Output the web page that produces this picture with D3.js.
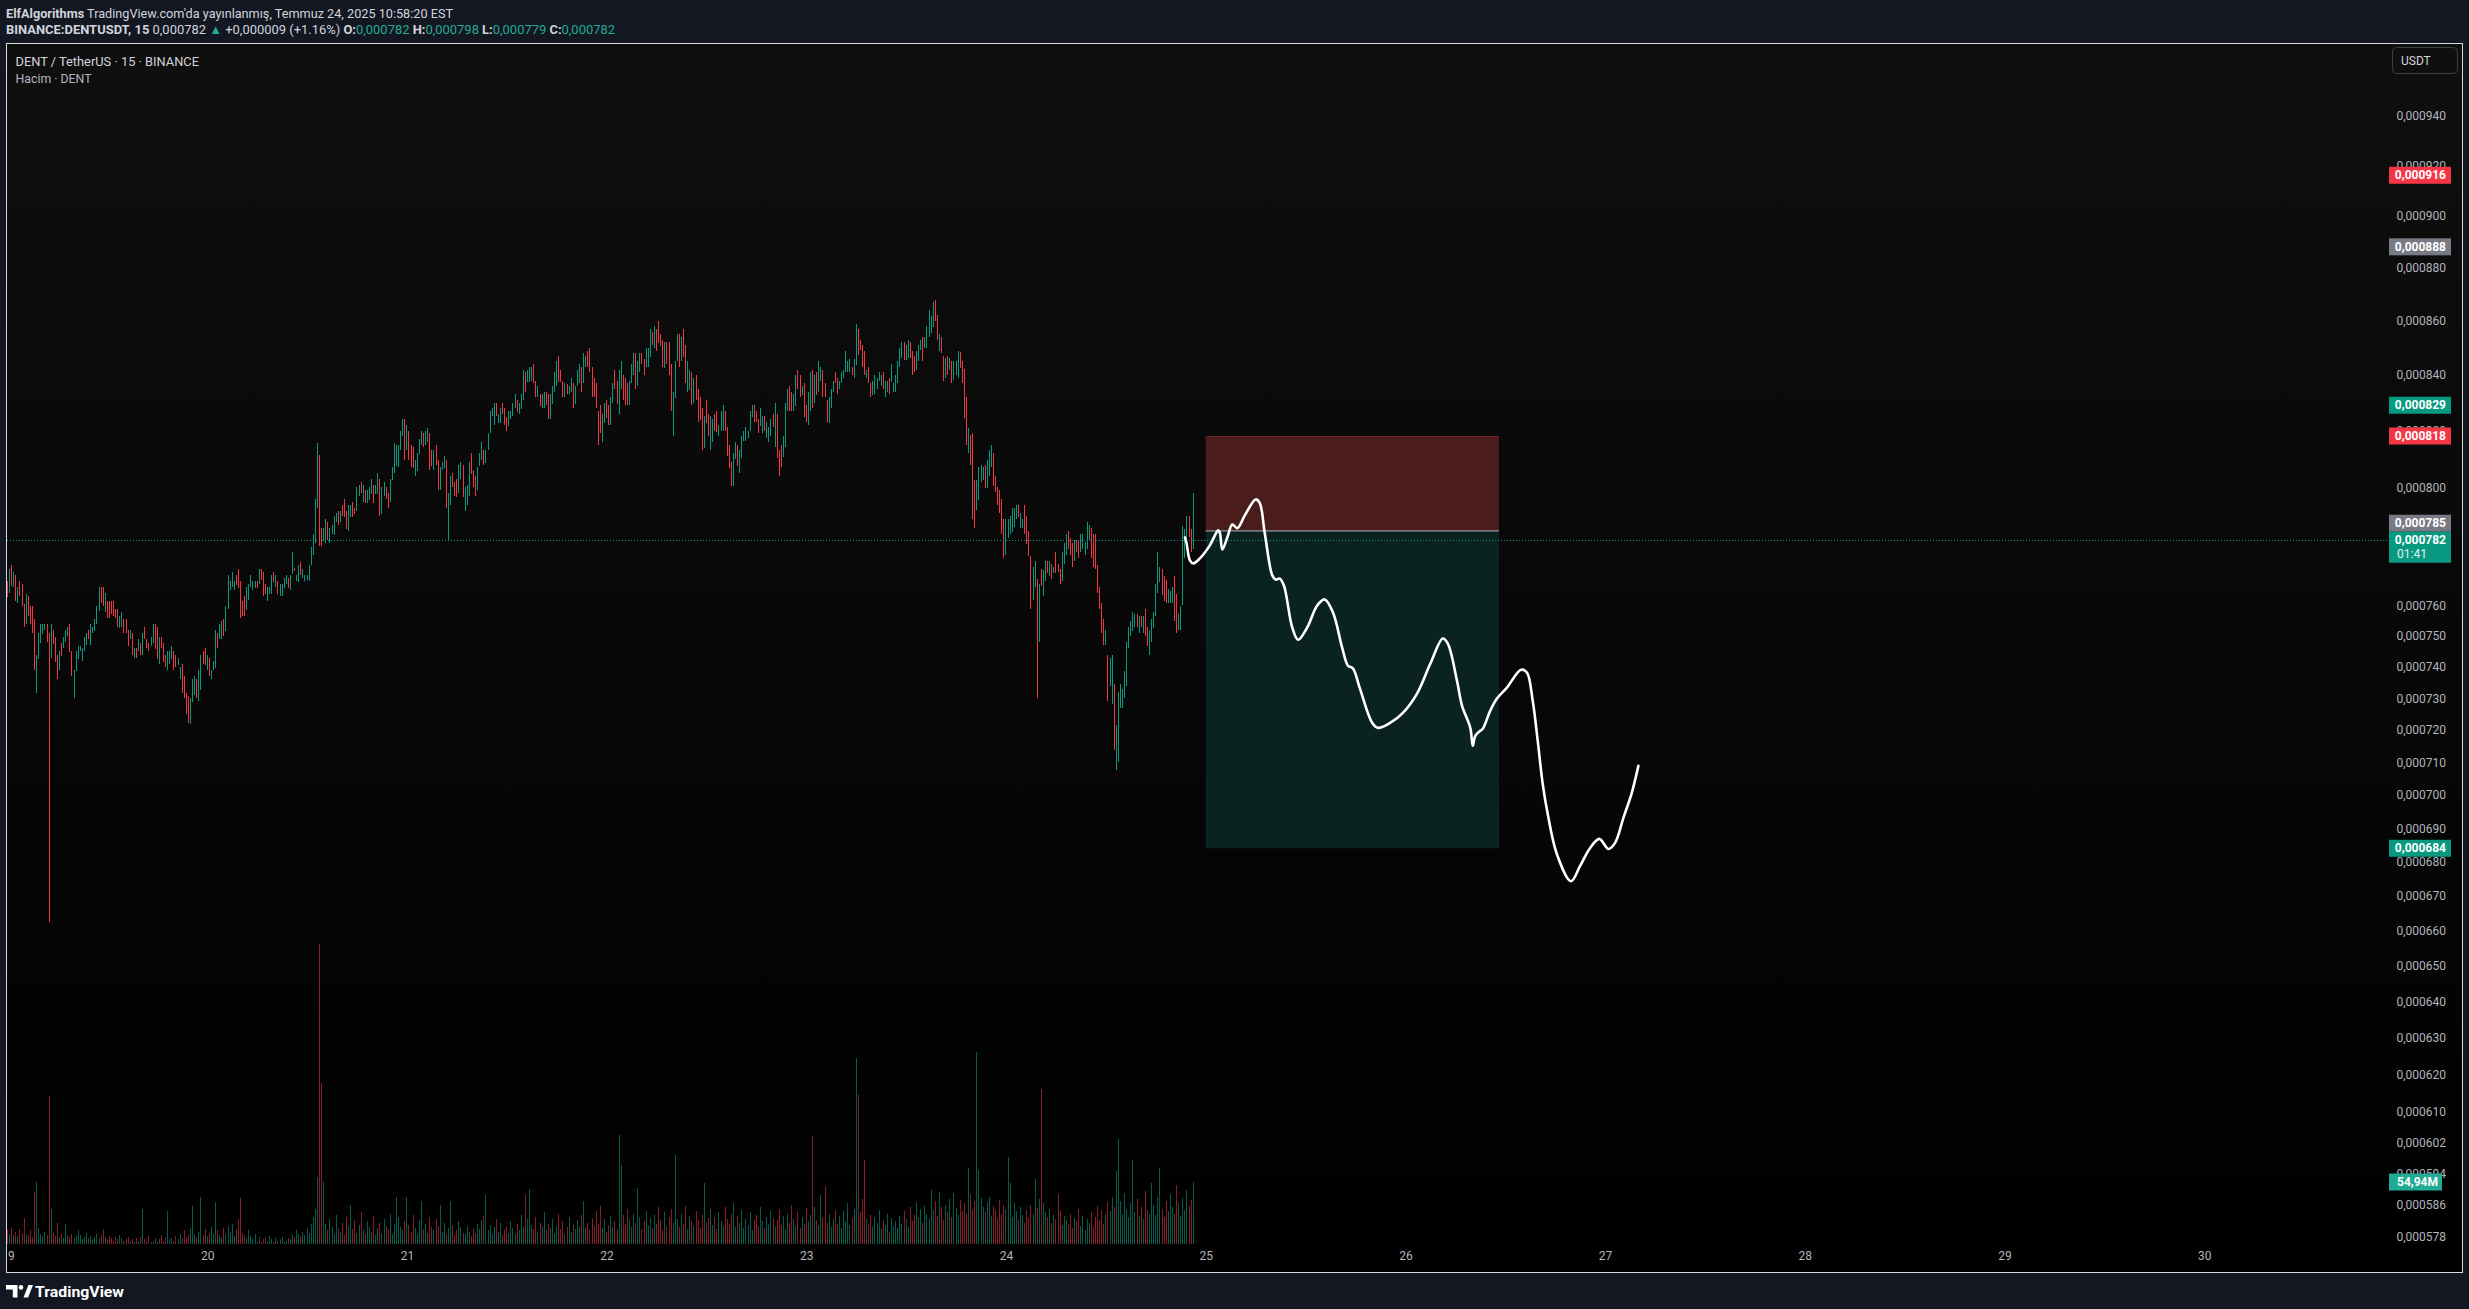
<!DOCTYPE html>
<html lang="tr">
<head>
<meta charset="utf-8">
<title>DENT / TetherUS · 15 · BINANCE</title>
<script src="https://cdn.jsdelivr.net/npm/d3@7/dist/d3.min.js"></script>
<style>
html,body{margin:0;padding:0;background:#131722;overflow:hidden;}
svg{display:block;font-family:Roboto,"Liberation Sans",sans-serif;}
</style>
</head>
<body>
<svg id="chart" width="2469" height="1309"></svg>
<script>
// ================= DATA =================
// prices are in units of 1e-7 USDT (7820 = 0,000782)
const PRICE_UNIT = 1e-7;
const firstBarUTC = Date.UTC(2025, 6, 19, 0, 0);
const barMinutes = 15;

// each bar: extent from open to close
const opens = [
7680,7641,7736,7660,7700,7608,7680,7670,7606,7539,
7630,7597,7597,7557,7318,7424,7477,7506,7518,7538,
7510,7429,7518,7498,7437,7389,7478,7461,7480,7500,
7538,7450,7300,7386,7425,7451,7418,7451,7470,7518,
7470,7510,7516,7539,7583,7660,7660,7578,7616,7616,
7616,7616,7588,7588,7525,7528,7557,7557,7518,7490,
7510,7428,7460,7451,7478,7437,7528,7490,7478,7469,
7478,7538,7528,7408,7498,7478,7437,7389,7408,7424,
7450,7437,7405,7360,7408,7370,7318,7308,7220,7287,
7309,7360,7290,7327,7450,7461,7389,7428,7360,7389,
7396,7510,7490,7490,7557,7516,7588,7650,7660,7650,
7700,7720,7680,7616,7630,7584,7617,7660,7651,7657,
7680,7672,7720,7710,7670,7614,7638,7638,7710,7660,
7680,7631,7631,7657,7670,7690,7651,7705,7724,7680,
7678,7746,7690,7680,7686,7680,7736,7767,7808,7929,
8112,7859,7816,7808,7879,7808,7840,7836,7880,7917,
7881,7938,7958,7917,7850,7897,7948,7927,7918,7970,
8017,7949,7990,7946,7956,7977,8007,7977,7977,8028,
7908,7970,8000,7980,7949,8024,8049,8073,8070,8130,
8179,8240,8130,8197,8147,8140,8038,8056,8116,8147,
8190,8147,8158,8190,8130,8059,8147,8097,7990,8059,
8066,8097,7820,7939,8049,8017,8028,7980,8029,8077,
7918,7939,7970,8119,8059,8038,7990,8074,8097,8130,
8085,8130,8190,8250,8219,8297,8227,8227,8297,8279,
8247,8216,8240,8251,8280,8308,8259,8275,8309,8410,
8375,8375,8378,8440,8378,8320,8330,8280,8280,8337,
8330,8241,8295,8339,8360,8469,8418,8378,8320,8367,
8332,8339,8370,8295,8361,8371,8429,8369,8429,8488,
8498,8429,8389,8370,8268,8290,8159,8227,8308,8290,
8219,8298,8418,8378,
8259,8350,8400,8389,8370,8291,8371,8398,8480,8360,
8412,8480,8458,8430,8430,8467,8558,8498,8569,8598,
8550,8528,8426,8521,8521,8440,8180,8316,8449,8550,
8451,8569,8510,8339,8344,8411,8298,8400,8349,8319,
8279,8138,8308,8258,8131,8158,8258,8268,8180,8198,
8198,8268,8212,8148,8088,8005,8099,8148,8049,8101,
8161,8161,8173,8198,8248,8290,8269,8241,8216,8191,
8250,8173,8159,8180,8259,8141,8258,8131,8148,8105,
8141,8269,8359,8337,8268,8288,8418,8400,8328,8370,
8290,8219,8269,8418,8298,8411,8339,8378,8418,8370,
8308,8227,8280,8336,8411,8389,8350,8371,8387,8412,
8412,8412,8429,8390,8437,8569,8528,8510,8488,8390,
8429,8370,8327,8332,8350,8378,8360,8411,8320,8339,
8389,8375,8339,8339,8371,8430,8460,8521,8456,8460,
8521,8488,8469,
8419,8451,8490,8539,8499,8499,8540,8555,8577,8678,
8621,8488,8539,8469,8389,8469,8416,8452,8383,8398,
8390,8484,8452,8420,8319,8121,8182,8190,8024,7920,
7955,8018,8027,8077,7998,8040,8071,8119,8040,8002,
7991,7960,7890,7767,7826,7839,7848,7863,7891,7938,
7860,7860,7938,7900,7850,7764,7618,7660,7689,7480,
7721,7631,7682,7747,7697,7738,7707,7779,7738,7721,
7682,7738,7767,7850,7827,7808,7748,7818,7817,7779,
7789,7767,7789,7818,7860,7839,7839,7736,7660,7607,
7557,7471,7440,7338,7281,7346,7077,7101,7269,7269,
7300,7340,7461,7500,7517,7529,7571,7510,7567,7510,
7587,7529,7437,7480,7525,7567,7641,7678,7721,7699,
7683,7607,7607,7607,7699,7638,7518,7518,7603,7757,
7801,7900,7858,7790
];

const closes = [
7628,7720,7666,7710,7614,7660,7631,7598,7529,7638,
7565,7539,7510,7389,7437,7510,7538,7538,7538,7480,
6624,7538,7475,7415,7360,7451,7435,7498,7518,7528,
7447,7370,7389,7450,7469,7469,7460,7498,7510,7490,
7538,7528,7557,7597,7660,7607,7598,7641,7558,7558,
7572,7565,7558,7528,7567,7577,7510,7510,7469,7518,
7437,7460,7428,7490,7437,7510,7490,7461,7451,7498,
7538,7458,7424,7498,7461,7415,7399,7450,7450,7469,
7389,7399,7428,7399,7318,7300,7250,7223,7300,7360,
7370,7300,7389,7437,7408,7405,7437,7370,7389,7418,
7518,7461,7538,7548,7500,7597,7700,7680,7710,7680,
7668,7657,7558,7567,7567,7660,7670,7700,7680,7680,
7657,7720,7686,7631,7637,7660,7660,7700,7678,7700,
7638,7670,7670,7690,7700,7657,7700,7777,7716,7700,
7736,7700,7720,7700,7700,7736,7797,7838,7958,8157,
7799,7799,7859,7889,7819,7859,7869,7900,7910,7870,
7917,7901,7897,7857,7938,7938,7897,7908,8000,8007,
7981,8007,7946,7990,8000,8028,7946,8007,8049,7901,
8000,8017,7960,7928,8028,8070,8157,8147,8147,8197,
8240,8097,8218,8097,8070,8066,8097,8119,8168,8197,
8140,8197,8208,8059,8073,8130,8077,7990,8070,8087,
8108,7928,7979,8038,8001,7970,7967,8077,8087,7967,
8000,8007,8087,8046,8001,7970,8070,8119,8158,8077,
8130,8190,8268,8279,8297,8250,8258,8279,8259,8219,
8198,8268,8268,8297,8330,8266,8297,8330,8418,8339,
8418,8429,8429,8371,8320,8359,8287,8330,8337,8291,
8241,8330,8359,8410,8451,8375,8375,8320,8370,8332,
8359,8389,8280,8359,8418,8440,8339,8480,8469,8429,
8412,8320,8320,8280,8148,8191,8258,8297,8246,8219,
8319,8370,8350,8295,
8418,8451,8309,8291,8291,8378,8440,8480,8350,8451,
8480,8441,8401,8498,8498,8569,8510,8580,8488,8517,
8506,8430,8521,8441,8401,8268,8337,8451,8550,8430,
8539,8467,8371,8451,8418,8291,8389,8309,8230,8237,
8131,8250,8227,8180,8250,8242,8198,8195,8220,8268,
8290,8198,8109,8066,8005,8120,8159,8074,8131,8180,
8198,8212,8198,8269,8290,8230,8230,8191,8279,8250,
8198,8230,8212,8241,8212,8297,8101,8039,8070,8180,
8297,8349,8268,8268,8330,8400,8350,8320,8359,8248,
8230,8337,8411,8280,8400,8327,8451,8429,8320,8320,
8230,8320,8349,8378,8371,8332,8378,8411,8418,8488,
8451,8458,8401,8458,8587,8473,8490,8430,8401,8418,
8369,8320,8378,8400,8389,8411,8400,8347,8378,8378,
8332,8440,8370,8400,8451,8498,8521,8456,8510,8528,
8460,8401,8412,
8488,8510,8528,8451,8539,8580,8640,8617,8670,8600,
8528,8550,8481,8378,8460,8401,8460,8371,8452,8452,
8488,8426,8371,8246,8148,8209,8078,7891,7860,8027,
8071,8077,8071,7998,8097,8130,8148,8003,7982,7939,
7911,7839,7757,7890,7890,7900,7930,7928,7938,7897,
7911,7890,7839,7807,7764,7588,7727,7748,7300,7670,
7666,7718,7747,7707,7747,7687,7727,7707,7712,7670,
7779,7808,7839,7789,7767,7727,7818,7779,7757,7839,
7839,7811,7880,7870,7757,7727,7721,7641,7588,7510,
7471,7518,7290,7430,7437,7139,7216,7320,7346,7329,
7388,7480,7529,7548,7577,7571,7529,7567,7529,7567,
7500,7466,7518,7557,7577,7670,7777,7727,7636,7616,
7607,7654,7649,7660,7548,7510,7572,7598,7868,7858,
7900,7829,7779,7980
];

// volume per bar, millions of DENT
const volumesM = [
12,9,14,8,11,7,13,10,23,9,
8,12,6,46,55,14,9,7,11,8,
131,31,10,7,19,6,9,5,18,8,
6,9,5,7,12,8,4,6,10,5,
7,4,6,9,5,8,13,6,4,7,
5,3,6,4,8,5,3,4,6,3,
4,2,5,3,6,31,4,3,7,2,
3,5,2,4,8,3,6,29,4,5,
3,7,4,9,5,12,6,8,14,34,
9,6,11,42,8,13,7,10,15,9,
37,12,8,6,14,9,16,11,18,7,
13,22,41,10,8,5,12,7,4,9,
3,6,2,4,5,3,7,4,2,5,
3,4,6,2,3,5,4,8,6,12,
9,7,11,8,14,10,18,24,31,59,
266,143,55,18,12,22,15,9,26,14,
11,19,8,24,16,35,13,21,10,17,
28,12,9,20,15,11,25,8,14,19,
10,22,16,13,27,9,18,42,24,15,
12,20,42,17,11,26,14,9,21,38,
13,18,10,24,15,12,22,16,35,11,
19,9,14,38,17,8,12,20,15,10,
9,16,11,7,14,10,18,13,21,25,
43,12,17,9,15,22,11,19,8,13,
16,10,20,14,9,18,12,26,15,43,
22,49,17,13,24,11,19,15,28,12,
18,14,22,10,16,27,13,20,9,15,
24,11,17,13,21,15,26,38,14,19,
12,23,16,29,18,34,14,22,11,17,
25,15,20,13,
97,70,26,18,31,22,
15,27,19,50,24,13,20,29,17,23,
14,26,18,33,21,12,28,16,24,31,
19,79,22,15,27,18,34,13,25,20,
16,29,21,14,26,54,19,23,31,17,
24,13,28,20,16,33,22,18,27,36,
15,25,19,30,14,22,17,28,12,21,
26,16,33,20,14,24,18,29,23,15,
21,31,17,25,13,27,19,35,22,16,
28,14,24,18,32,20,26,96,33,21,
17,43,24,51,19,27,15,22,30,18,
25,14,29,20,36,17,23,31,165,132,
28,40,74,22,18,26,15,24,19,30,
13,21,17,27,11,23,16,20,14,25,
18,29,22,15,33,20,26,37,24,31,
19,34,27,22,48,30,38,25,46,33,
21,35,28,40,24,45,32,26,39,29,
36,27,67,44,30,38,170,66,41,33,
28,37,42,25,34,30,22,39,27,35,
31,77,54,24,36,29,21,33,26,19,
30,23,35,27,58,32,40,137,36,28,
24,31,19,26,22,44,29,17,25,21,
18,27,14,23,20,31,16,25,12,22,
19,28,15,24,34,21,30,18,26,37,
29,42,33,65,93,38,27,45,31,24,
36,74,28,40,25,33,22,47,30,27,
54,35,26,42,67,31,24,38,29,44,
33,27,52,36,25,41,30,48,34,39,
54.94
];

// time axis labels (days of July 2025)
const dayTicks = [19,20,21,22,23,24,25,26,27,28,29,30];

// price axis tick labels (0,000780 lies fully under the last-price label in the reference)
const priceTicks = [0.000940,0.000920,0.000900,0.000880,0.000860,0.000840,0.000820,0.000800,
  0.000760,0.000750,0.000740,0.000730,0.000720,0.000710,0.000700,0.000690,0.000680,0.000670,0.000660,
  0.000650,0.000640,0.000630,0.000620,0.000610,0.000602,0.000594,0.000586,0.000578];

// coloured price labels on the scale
const markerValues = [0.000916,0.000888,0.000829,0.000818,0.000785,0.000684];
const markerColors = ['#f23645','#787b86','#089981','#f23645','#787b86','#089981'];

// last bar / header values
const lastPrice = 0.000782;
const countdown = '01:41';
const lastVolumeLabel = '54,94M';
const ohlc = {o:'0,000782', h:'0,000798', l:'0,000779', c:'0,000782'};
const change = '+0,000009 (+1.16%)';

// short position drawing
const posStart = Date.UTC(2025, 6, 25, 0, 0);
const posEnd = Date.UTC(2025, 6, 26, 11, 15);
const posStop = 0.000818, posEntry = 0.000785, posTarget = 0.000684;

// projected path (hours after 19 Jul 00:00, price x1e-7)
const pathHours = [141.5,141.7,142.1,142.5,143.3,144.5,145.5,145.7,146.0,146.6,
  147.2,147.8,148.7,150.0,150.5,151.1,152.0,152.4,152.9,153.4,
  154.4,155.1,156.2,157.4,158.3,159.3,160.4,161.1,161.7,162.5,
  164.0,164.7,166.2,167.7,169.4,171.0,172.5,173.1,174.2,174.8,
  175.8,176.1,176.4,177.0,177.3,178.2,179.0,180.2,181.9,182.6,
  183.3,183.9,184.5,185.1,186.2,187.9,189.0,190.2,191.3,192.4,
  193.2,194.2,195.2,196.0];
const pathPrices = [7828,7808,7750,7740,7757,7801,7852,7844,7787,7828,
  7872,7859,7903,7958,7945,7842,7700,7686,7689,7666,
  7528,7488,7528,7600,7620,7577,7462,7404,7395,7334,
  7223,7207,7223,7254,7315,7411,7492,7475,7356,7277,
  7207,7151,7182,7198,7204,7261,7299,7334,7391,7382,
  7292,7167,7034,6943,6823,6743,6788,6841,6868,6838,
  6856,6931,7006,7089];

// ================= DRAW =================
const TEAL = '#089981', RED = '#f23645';
const FONT = 'Roboto,"Liberation Sans",sans-serif';
const svg = d3.select('#chart');
const defs = svg.append('defs');
const grad = defs.append('linearGradient').attr('id','bgGrad')
  .attr('x1',0).attr('y1',0).attr('x2',0).attr('y2',1);
grad.append('stop').attr('offset','0%').attr('stop-color','#0f0f0f');
grad.append('stop').attr('offset','100%').attr('stop-color','#000000');
defs.append('clipPath').attr('id','plotClip').append('rect')
  .attr('x',7).attr('y',44).attr('width',2380).attr('height',1228);
defs.append('clipPath').attr('id','paneClip').append('rect')
  .attr('x',7).attr('y',44).attr('width',2455).attr('height',1228);

svg.append('rect').attr('width',2469).attr('height',1309).attr('fill','#131722');
svg.append('rect').attr('x',6.5).attr('y',43.5).attr('width',2456).attr('height',1229)
  .attr('fill','url(#bgGrad)').attr('stroke','#d9d9d9').attr('stroke-width',1);

const x = d3.scaleUtc()
  .domain([Date.UTC(2025,6,19), Date.UTC(2025,6,30)])
  .range([7.5, 2204.2]);
const y = d3.scaleLog().domain([0.0008, 0.0007]).range([487.3, 795.0]);
const yv = d3.scaleLinear().domain([0, 54.94]).range([1244, 1182]);

const bars = opens.map((o,i)=>({
  t: new Date(firstBarUTC + i*barMinutes*60000),
  o: o*PRICE_UNIT, c: closes[i]*PRICE_UNIT, v: volumesM[i]
}));

const plot = svg.append('g').attr('clip-path','url(#plotClip)');

// volume
plot.append('g').attr('shape-rendering','crispEdges')
  .selectAll('rect').data(bars).join('rect')
  .attr('x',d=>Math.floor(x(d.t))).attr('width',1)
  .attr('y',d=>yv(d.v)).attr('height',d=>yv(0)-yv(d.v))
  .attr('fill',d=>d.c>=d.o?'rgba(8,153,129,0.6)':'rgba(242,54,69,0.55)');

// short position
const px0 = x(new Date(posStart)), px1 = x(new Date(posEnd));
plot.append('rect').attr('x',px0).attr('y',y(posStop)).attr('width',px1-px0)
  .attr('height',y(posEntry)-y(posStop)).attr('fill','#4a1c1b');
plot.append('line').attr('x1',px0).attr('x2',px1).attr('y1',y(posStop)+0.5).attr('y2',y(posStop)+0.5)
  .attr('stroke','#6e2523').attr('stroke-width',1);
plot.append('rect').attr('x',px0).attr('y',y(posEntry)).attr('width',px1-px0)
  .attr('height',y(posTarget)-y(posEntry)).attr('fill','#0a2320');
plot.append('line').attr('x1',px0).attr('x2',px1).attr('y1',y(posEntry)).attr('y2',y(posEntry))
  .attr('stroke','#9598a1').attr('stroke-width',1.2);

// candles
plot.append('g').attr('shape-rendering','crispEdges')
  .selectAll('rect').data(bars).join('rect')
  .attr('x',d=>Math.floor(x(d.t))).attr('width',1)
  .attr('y',d=>y(Math.max(d.o,d.c)))
  .attr('height',d=>Math.max(1,Math.abs(y(d.o)-y(d.c))))
  .attr('fill',d=>d.c>=d.o?TEAL:RED);

// current price dotted line
const lastY = y(lastPrice);
plot.append('line').attr('x1',7).attr('x2',2387)
  .attr('y1',Math.round(lastY)+0.5).attr('y2',Math.round(lastY)+0.5)
  .attr('stroke',TEAL).attr('stroke-width',1).attr('stroke-dasharray','1 2');

// projected path
const pathData = pathHours.map((h,i)=>({t:new Date(firstBarUTC + h*3600000), p:pathPrices[i]*PRICE_UNIT}));
plot.append('path').datum(pathData)
  .attr('d', d3.line().x(d=>x(d.t)).y(d=>y(d.p)).curve(d3.curveCatmullRom.alpha(0.5)))
  .attr('fill','none').attr('stroke','#ffffff').attr('stroke-width',2.6)
  .attr('stroke-linecap','round').attr('stroke-linejoin','round');

// price axis
const fmtP = v => d3.format('.6f')(v).replace('.', ',');
const yAxisG = svg.append('g').attr('transform','translate(2446,0)')
  .call(d3.axisLeft(y).tickValues(priceTicks).tickFormat(fmtP).tickSize(0).tickPadding(0));
yAxisG.select('.domain').remove();
yAxisG.attr('font-family',FONT).attr('font-size',12);
yAxisG.selectAll('text').attr('fill','#b2b5be');

// time axis (outer group clips, inner group is translated)
const xAxisOuter = svg.append('g').attr('clip-path','url(#paneClip)');
const xAxisG = xAxisOuter.append('g').attr('transform','translate(0,1251)')
  .call(d3.axisBottom(x).tickValues(dayTicks.map(d=>new Date(Date.UTC(2025,6,d))))
    .tickFormat(d=>d.getUTCDate()).tickSize(0).tickPadding(0));
xAxisG.select('.domain').remove();
xAxisG.attr('font-family',FONT).attr('font-size',12);
xAxisG.selectAll('text').attr('fill','#b2b5be');

// price scale labels
const lastTop = lastY - 8;
markerValues.forEach((v,i)=>{
  let cy = y(v);
  if (cy + 8.5 > lastTop && cy < lastY) cy = lastTop - 8.5;
  svg.append('rect').attr('x',2389).attr('y',cy-8.5).attr('width',62).attr('height',17).attr('fill',markerColors[i]);
  svg.append('text').attr('x',2446).attr('y',cy+4.2).attr('text-anchor','end')
    .attr('fill','#ffffff').attr('font-size',12).attr('font-weight','bold').text(fmtP(v));
});
svg.append('rect').attr('x',2389).attr('y',lastTop).attr('width',62).attr('height',31).attr('fill',TEAL);
svg.append('text').attr('x',2446).attr('y',lastY+4.2).attr('text-anchor','end')
  .attr('fill','#ffffff').attr('font-size',12).attr('font-weight','bold').text(fmtP(lastPrice));
svg.append('text').attr('x',2397).attr('y',lastY+18).attr('text-anchor','start')
  .attr('fill','#e6f4f1').attr('font-size',12).text(countdown);
const vy = yv(volumesM[volumesM.length-1]);
svg.append('rect').attr('x',2389).attr('y',vy-8.5).attr('width',53).attr('height',17).attr('fill','#22ab94');
svg.append('text').attr('x',2438).attr('y',vy+4.2).attr('text-anchor','end')
  .attr('fill','#ffffff').attr('font-size',12).attr('font-weight','bold').text(lastVolumeLabel);

// USDT button
svg.append('rect').attr('x',2392.5).attr('y',47.5).attr('width',65).attr('height',26).attr('rx',4)
  .attr('fill','#0f0f0f').attr('stroke','#3a3d45');
svg.append('text').attr('x',2401).attr('y',65).attr('fill','#d1d4dc').attr('font-size',12).text('USDT');

// header
const h1 = svg.append('text').attr('x',6).attr('y',17.5).attr('fill','#d1d4dc').attr('font-size',13)
  .attr('textLength',447).attr('lengthAdjust','spacingAndGlyphs');
h1.append('tspan').attr('font-weight','bold').text('ElfAlgorithms');
h1.append('tspan').text(' TradingView.com\'da yayınlanmış, Temmuz 24, 2025 10:58:20 EST');

const h2 = svg.append('text').attr('x',6).attr('y',33.5).attr('fill','#d1d4dc').attr('font-size',13)
  .attr('textLength',609).attr('lengthAdjust','spacingAndGlyphs');
h2.append('tspan').attr('font-weight','bold').text('BINANCE:DENTUSDT, 15');
h2.append('tspan').text(' ' + fmtP(lastPrice) + ' ');
h2.append('tspan').attr('fill','#22ab94').text('▲');
h2.append('tspan').text(' ' + change + ' ');
[['O:',ohlc.o],['H:',ohlc.h],['L:',ohlc.l],['C:',ohlc.c]].forEach(([k,v],i)=>{
  h2.append('tspan').attr('font-weight','bold').text((i? ' ':'') + k);
  h2.append('tspan').attr('fill','#22ab94').text(v);
});

// legend
svg.append('text').attr('x',15.5).attr('y',65.5).attr('fill','#d1d4dc').attr('font-size',12.5)
  .attr('textLength',183.5).attr('lengthAdjust','spacingAndGlyphs').text('DENT / TetherUS · 15 · BINANCE');
svg.append('text').attr('x',15.5).attr('y',82.5).attr('fill','#b2b5be').attr('font-size',12.5)
  .attr('textLength',76).attr('lengthAdjust','spacingAndGlyphs').text('Hacim · DENT');

// TradingView logo
const logo = svg.append('g').attr('fill','#ffffff');
logo.append('path').attr('d','M6,1285 H17.5 V1297.5 H12.8 V1289.6 H6 Z');
logo.append('circle').attr('cx',21).attr('cy',1287.4).attr('r',2.3);
logo.append('path').attr('d','M23.5,1297.5 L28.4,1285 H33 L28.1,1297.5 Z');
svg.append('text').attr('x',35).attr('y',1296.5).attr('fill','#ffffff').attr('font-size',15.5)
  .attr('font-weight','bold').attr('textLength',89).attr('lengthAdjust','spacingAndGlyphs').text('TradingView');
</script>
</body>
</html>
